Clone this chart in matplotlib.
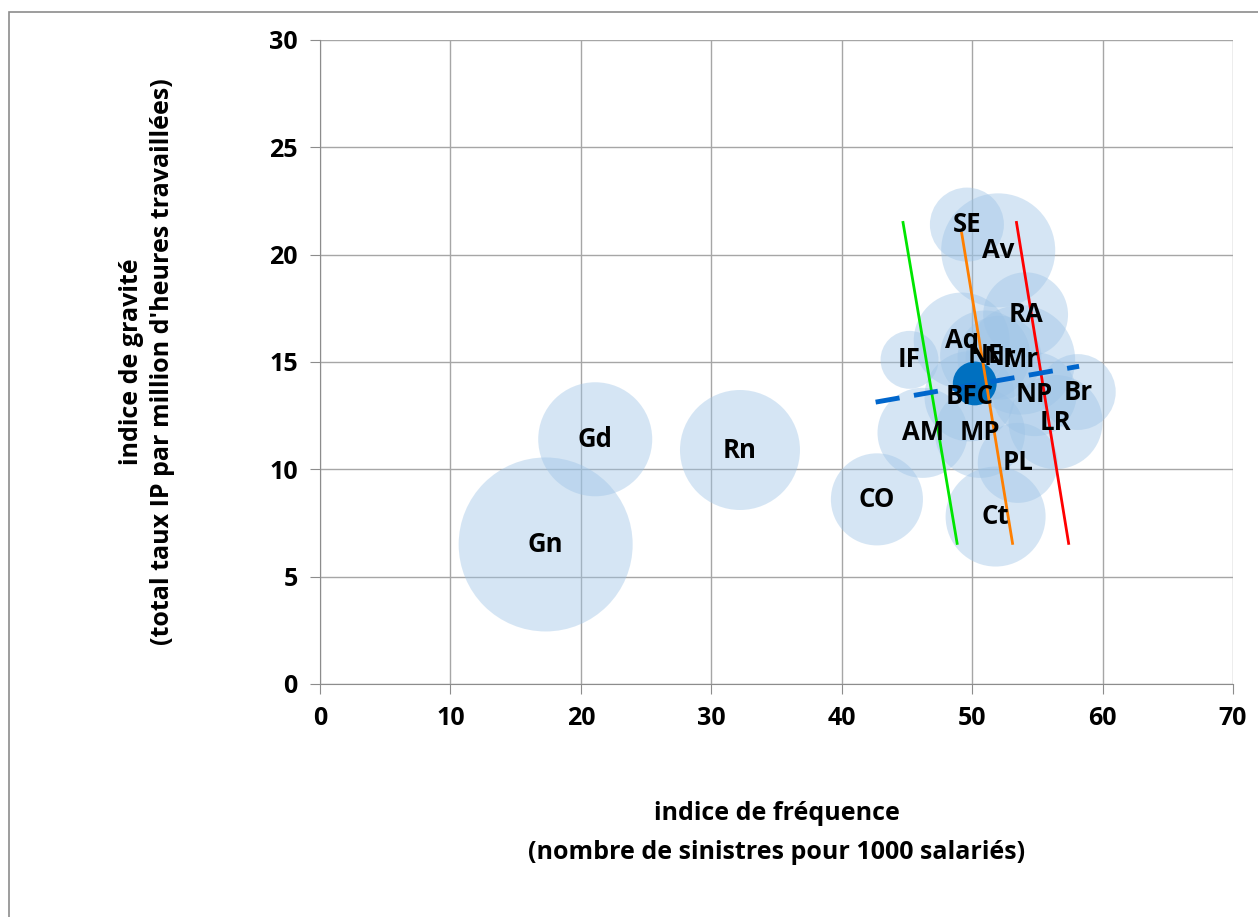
# Graphique à bulles : indice de fréquence vs indice de gravité par région
import matplotlib.pyplot as plt
from matplotlib.patches import Rectangle
import numpy as np

plt.rcParams['font.family'] = ['Open Sans', 'DejaVu Sans']

# données
regions = ['Gn', 'Gd', 'Rn', 'CO', 'AM', 'IF', 'Ct', 'MP', 'PL', 'SE', 'Av',
           'Aq', 'NE', 'Nr', 'BFC', 'Mr', 'RA', 'NP', 'LR', 'Br']
freq = [17.3, 21.1, 32.2, 42.7, 46.2, 45.2, 51.8, 50.6, 53.5, 49.6, 52.0,
        49.2, 51.0, 52.1, 49.8, 53.7, 54.1, 54.8, 56.4, 58.1]
grav = [6.5, 11.4, 10.9, 8.6, 11.7, 15.1, 7.8, 11.7, 10.3, 21.4, 20.2,
        16.0, 15.3, 15.2, 13.4, 15.1, 17.2, 13.5, 12.2, 13.6]
# poids des bulles (proportionnel à la surface)
poids = [75.7, 32.5, 36.0, 21.2, 20.3, 8.4, 25.0, 20.3, 16.0, 13.7, 32.5,
         23.0, 20.3, 17.6, 20.3, 30.0, 18.0, 17.6, 22.1, 14.4]

# bulle moyenne
moy_freq = [50.2]
moy_grav = [14.0]
moy_poids = [4.8]

# droites et tendance
vert_x = [44.7, 48.85]
vert_y = [21.5, 6.55]
orange_x = [49.2, 53.1]
orange_y = [21.0, 6.55]
rouge_x = [53.4, 57.4]
rouge_y = [21.5, 6.55]
tend_x = [42.6, 58.2]
tend_y = [13.13, 14.8]


def main():
    fig = plt.figure(figsize=(12.58, 9.17), dpi=100)
    fig.patches.append(Rectangle((9 / 1258, -0.1), 1.2, 1 - 12 / 917 + 0.1,
                                 transform=fig.transFigure, fill=False,
                                 edgecolor='#8c8c8c', linewidth=1.2))
    ax = fig.add_axes([0.2544, 0.2541, 0.7257, 0.7023])

    scale = 207.4
    ax.scatter(freq, grav, s=np.array(poids) * scale, color='#9DC3E6',
               alpha=0.42, edgecolors='none', zorder=3)
    ax.scatter(moy_freq, moy_grav, s=np.array(moy_poids) * scale,
               color='#0070C0', edgecolors='none', zorder=4)

    for r, x, y in zip(regions, freq, grav):
        ax.text(x, y, r, ha='center', va='center', fontsize=18.5,
                fontweight='bold', color='black', zorder=6)

    ax.plot(vert_x, vert_y, color='#00E600', linewidth=2, zorder=5)
    ax.plot(orange_x, orange_y, color='#FF7F00', linewidth=2, zorder=5)
    ax.plot(rouge_x, rouge_y, color='#FF0000', linewidth=2, zorder=5)
    ax.plot(tend_x, tend_y, color='#0066CC', linewidth=3.5,
            dashes=(5, 3), zorder=5)

    ax.set_xlim(0, 70)
    ax.set_ylim(0, 30)
    ax.set_xticks(range(0, 71, 10))
    ax.set_yticks(range(0, 31, 5))
    ax.grid(True, color='#a6a6a6', linewidth=1)
    ax.set_axisbelow(True)
    for s in ['top', 'right']:
        ax.spines[s].set_visible(False)
    for s in ['left', 'bottom']:
        ax.spines[s].set_color('#8c8c8c')
    ax.tick_params(axis='both', length=7, color='#8c8c8c', labelsize=18,
                   pad=9)
    for lab in ax.get_xticklabels() + ax.get_yticklabels():
        lab.set_fontweight('bold')

    ax.set_xlabel("indice de fréquence\n(nombre de sinistres pour 1000 salariés)",
                  fontsize=18, fontweight='bold', labelpad=50, linespacing=1.75)
    ax.set_ylabel("indice de gravité\n(total taux IP par million d'heures travaillées)",
                  fontsize=18, fontweight='bold', labelpad=68, linespacing=1.3)

    fig.savefig('out.png', dpi=100)


if __name__ == '__main__':
    main()
